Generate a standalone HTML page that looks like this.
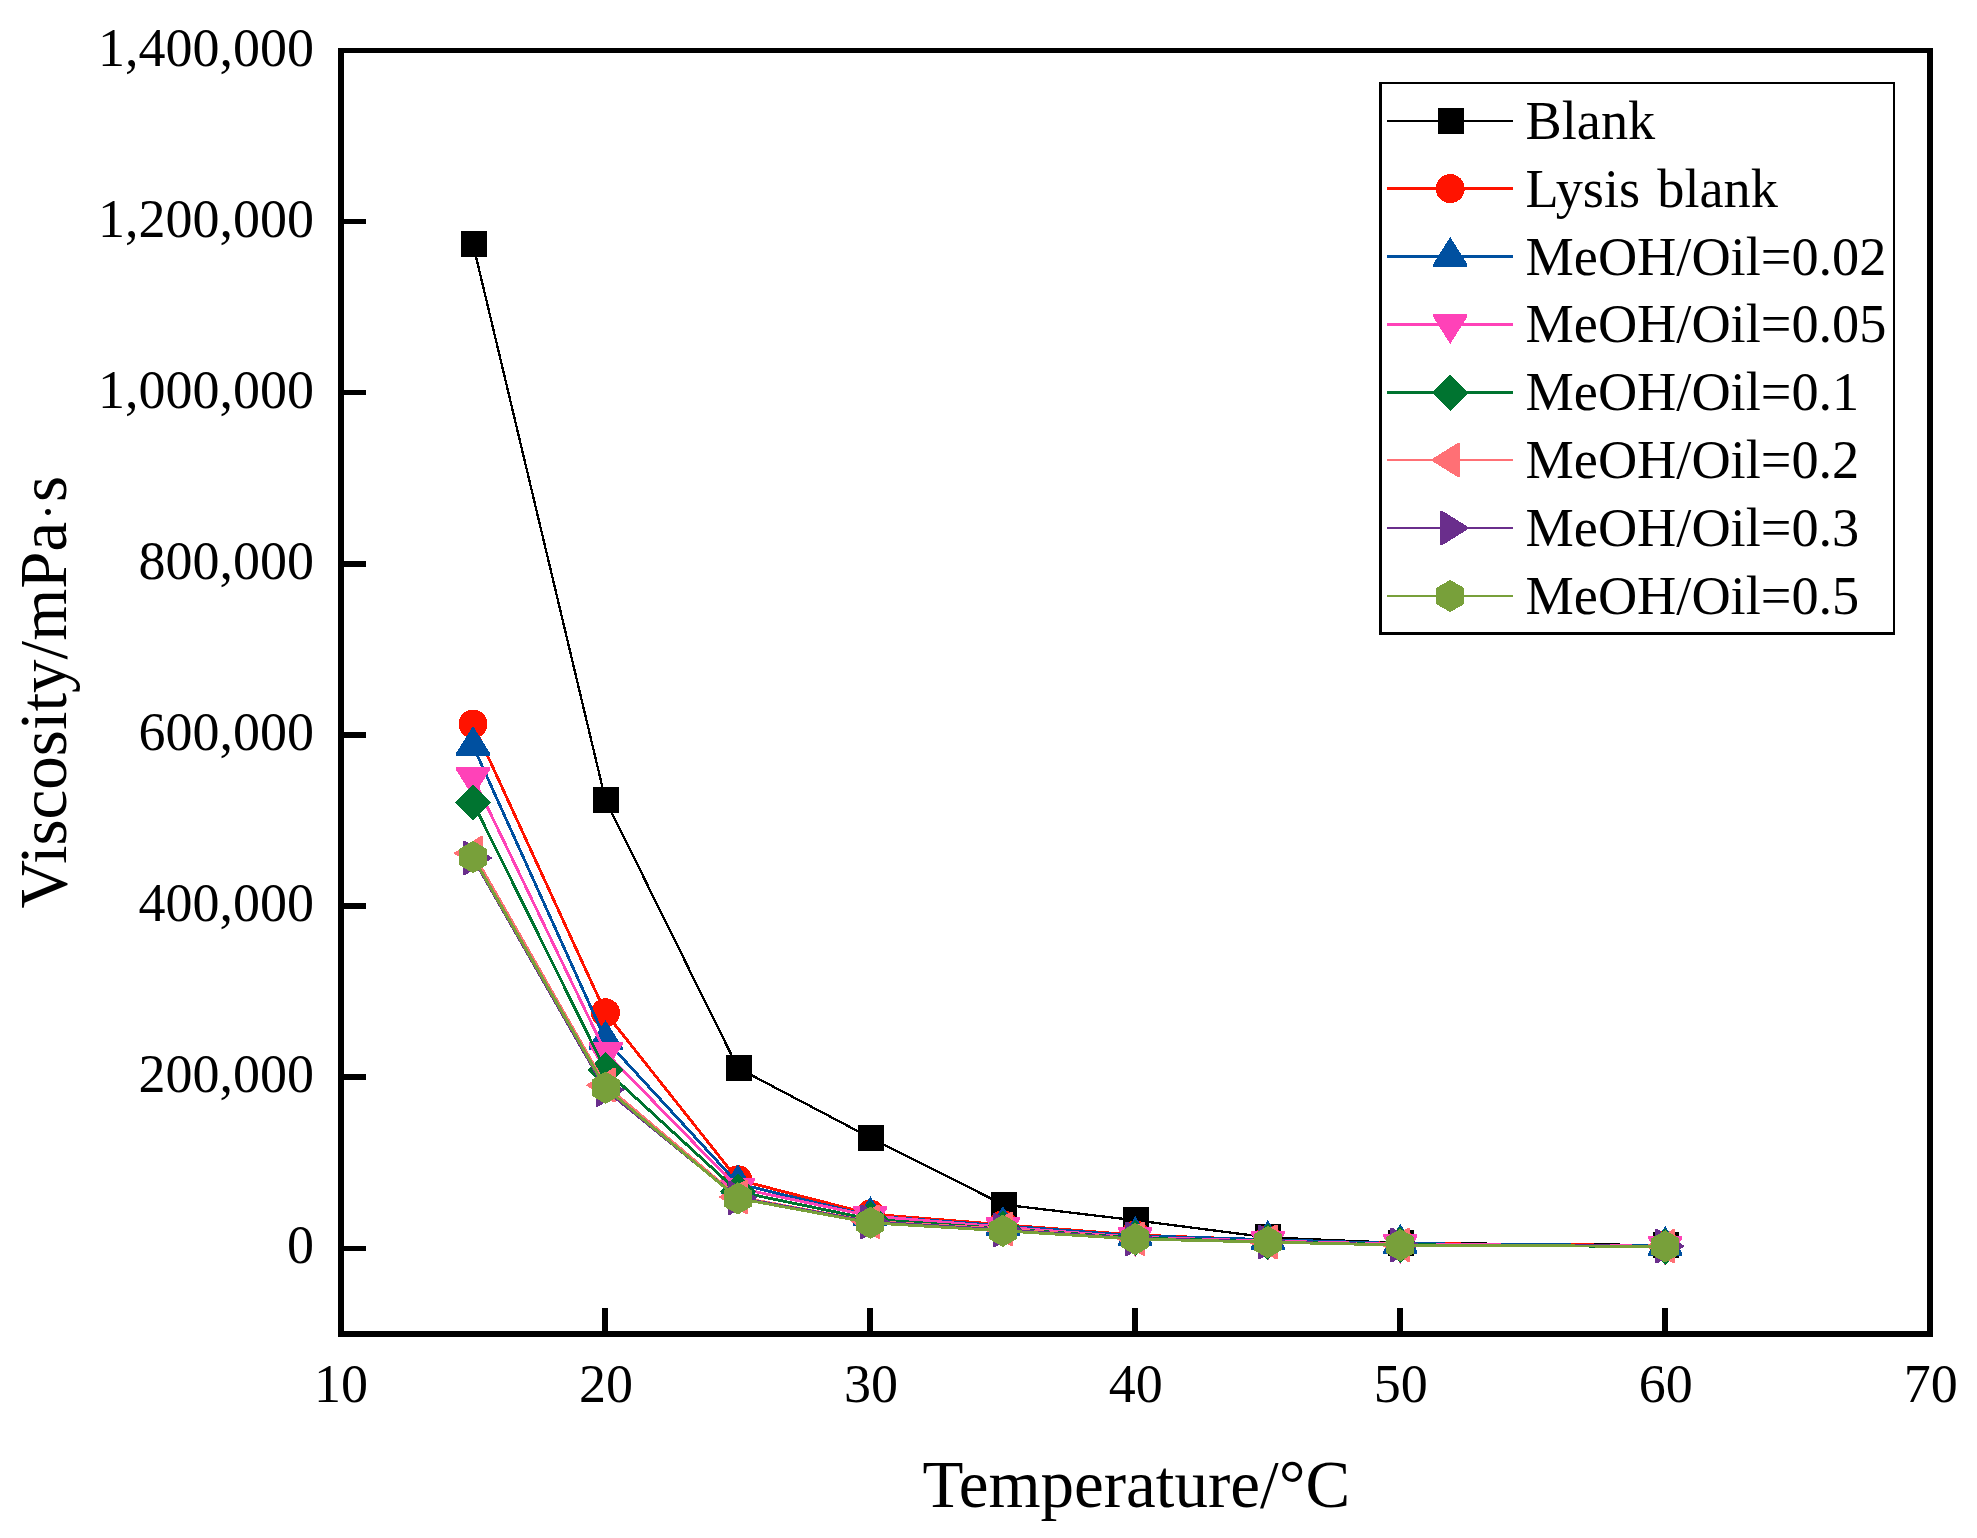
<!DOCTYPE html>
<html lang="en"><head><meta charset="utf-8">
<title>Viscosity vs Temperature</title>
<style>
html,body{margin:0;padding:0;background:#fff;}
body{width:1977px;height:1538px;overflow:hidden;}
svg{display:block;}
text{font-family:"Liberation Serif", "Times New Roman", Times, serif;fill:#000;}
.tk{font-size:54.0px;}
.ti{font-size:67.0px;}
.lg{font-size:54.3px;}
</style></head><body>
<svg width="1977" height="1538" viewBox="0 0 1977 1538">
<rect x="0" y="0" width="1977" height="1538" fill="#fff"/>
<g id="series" shape-rendering="crispEdges">
<g><polyline points="473,244 605.5,800 737.9,1068 870.4,1137.8 1002.9,1204.5 1135.3,1220.3 1267.8,1237.4 1400.3,1243 1665.2,1245" fill="none" stroke="#000000" stroke-width="2.3" stroke-linejoin="round"/>
<rect x="460.6" y="231" width="26" height="26" fill="#000000"/>
<rect x="593.1" y="787" width="26" height="26" fill="#000000"/>
<rect x="725.5" y="1055" width="26" height="26" fill="#000000"/>
<rect x="858" y="1124.8" width="26" height="26" fill="#000000"/>
<rect x="990.5" y="1191.5" width="26" height="26" fill="#000000"/>
<rect x="1122.9" y="1207.3" width="26" height="26" fill="#000000"/>
<rect x="1255.4" y="1224.4" width="26" height="26" fill="#000000"/>
<rect x="1387.9" y="1230" width="26" height="26" fill="#000000"/>
<rect x="1652.8" y="1232" width="26" height="26" fill="#000000"/>
</g>
<g><polyline points="473,724 605.5,1012.8 737.9,1179.8 870.4,1214.1 1002.9,1224.7 1135.3,1235 1267.8,1240 1400.3,1243.5 1665.2,1245.5" fill="none" stroke="#FF1300" stroke-width="2.9" stroke-linejoin="round"/>
<circle cx="473" cy="724" r="14.5" fill="#FF1300"/>
<circle cx="605.5" cy="1012.8" r="14.5" fill="#FF1300"/>
<circle cx="737.9" cy="1179.8" r="14.5" fill="#FF1300"/>
<circle cx="870.4" cy="1214.1" r="14.5" fill="#FF1300"/>
<circle cx="1002.9" cy="1224.7" r="14.5" fill="#FF1300"/>
<circle cx="1135.3" cy="1235" r="14.5" fill="#FF1300"/>
<circle cx="1267.8" cy="1240" r="14.5" fill="#FF1300"/>
<circle cx="1400.3" cy="1243.5" r="14.5" fill="#FF1300"/>
<circle cx="1665.2" cy="1245.5" r="14.5" fill="#FF1300"/>
</g>
<g><polyline points="473,745.7 605.5,1039.7 737.9,1183.7 870.4,1215.9 1002.9,1225.7 1135.3,1235.8 1267.8,1239.6 1400.3,1243.6 1665.2,1245.7" fill="none" stroke="#0050A0" stroke-width="2.9" stroke-linejoin="round"/>
<polygon points="473,726 490,753.2 490,756.2 456,756.2 456,753.2" fill="#0050A0"/>
<polygon points="605.5,1020 622.5,1047.2 622.5,1050.2 588.5,1050.2 588.5,1047.2" fill="#0050A0"/>
<polygon points="737.9,1164 754.9,1191.2 754.9,1194.2 720.9,1194.2 720.9,1191.2" fill="#0050A0"/>
<polygon points="870.4,1196.2 887.4,1223.4 887.4,1226.4 853.4,1226.4 853.4,1223.4" fill="#0050A0"/>
<polygon points="1002.9,1206 1019.9,1233.2 1019.9,1236.2 985.9,1236.2 985.9,1233.2" fill="#0050A0"/>
<polygon points="1135.3,1216.1 1152.3,1243.3 1152.3,1246.3 1118.3,1246.3 1118.3,1243.3" fill="#0050A0"/>
<polygon points="1267.8,1219.9 1284.8,1247.1 1284.8,1250.1 1250.8,1250.1 1250.8,1247.1" fill="#0050A0"/>
<polygon points="1400.3,1223.9 1417.3,1251.1 1417.3,1254.1 1383.3,1254.1 1383.3,1251.1" fill="#0050A0"/>
<polygon points="1665.2,1226 1682.2,1253.2 1682.2,1256.2 1648.2,1256.2 1648.2,1253.2" fill="#0050A0"/>
</g>
<g><polyline points="473,777.3 605.5,1052.3 737.9,1188 870.4,1216 1002.9,1227.1 1135.3,1237.3 1267.8,1241 1400.3,1244.2 1665.2,1246.2" fill="none" stroke="#FF42B8" stroke-width="2.9" stroke-linejoin="round"/>
<polygon points="473,797 490,769.8 490,767.1 456,767.1 456,769.8" fill="#FF42B8"/>
<polygon points="605.5,1072 622.5,1044.8 622.5,1042.1 588.5,1042.1 588.5,1044.8" fill="#FF42B8"/>
<polygon points="737.9,1207.7 754.9,1180.5 754.9,1177.8 720.9,1177.8 720.9,1180.5" fill="#FF42B8"/>
<polygon points="870.4,1235.7 887.4,1208.5 887.4,1205.8 853.4,1205.8 853.4,1208.5" fill="#FF42B8"/>
<polygon points="1002.9,1246.8 1019.9,1219.6 1019.9,1216.9 985.9,1216.9 985.9,1219.6" fill="#FF42B8"/>
<polygon points="1135.3,1257 1152.3,1229.8 1152.3,1227.1 1118.3,1227.1 1118.3,1229.8" fill="#FF42B8"/>
<polygon points="1267.8,1260.7 1284.8,1233.5 1284.8,1230.8 1250.8,1230.8 1250.8,1233.5" fill="#FF42B8"/>
<polygon points="1400.3,1263.9 1417.3,1236.7 1417.3,1234 1383.3,1234 1383.3,1236.7" fill="#FF42B8"/>
<polygon points="1665.2,1265.9 1682.2,1238.7 1682.2,1236 1648.2,1236 1648.2,1238.7" fill="#FF42B8"/>
</g>
<g><polyline points="473,802.5 605.5,1070 737.9,1191.7 870.4,1219.2 1002.9,1228.7 1135.3,1238 1267.8,1241.9 1400.3,1244.7 1665.2,1246.6" fill="none" stroke="#007430" stroke-width="2.9" stroke-linejoin="round"/>
<polygon points="473,784.2 491,802.5 473,820.8 455,802.5" fill="#007430"/>
<polygon points="605.5,1051.7 623.5,1070 605.5,1088.3 587.5,1070" fill="#007430"/>
<polygon points="737.9,1173.4 755.9,1191.7 737.9,1210 719.9,1191.7" fill="#007430"/>
<polygon points="870.4,1200.9 888.4,1219.2 870.4,1237.5 852.4,1219.2" fill="#007430"/>
<polygon points="1002.9,1210.4 1020.9,1228.7 1002.9,1247 984.9,1228.7" fill="#007430"/>
<polygon points="1135.3,1219.7 1153.3,1238 1135.3,1256.3 1117.3,1238" fill="#007430"/>
<polygon points="1267.8,1223.6 1285.8,1241.9 1267.8,1260.2 1249.8,1241.9" fill="#007430"/>
<polygon points="1400.3,1226.4 1418.3,1244.7 1400.3,1263 1382.3,1244.7" fill="#007430"/>
<polygon points="1665.2,1228.3 1683.2,1246.6 1665.2,1264.9 1647.2,1246.6" fill="#007430"/>
</g>
<g><polyline points="473,853.2 605.5,1085.2 737.9,1197 870.4,1221.5 1002.9,1229 1135.3,1238.6 1267.8,1242 1400.3,1244.9 1665.2,1246.3" fill="none" stroke="#FF7075" stroke-width="2.9" stroke-linejoin="round"/>
<polygon points="453.3,853.2 480.5,836.2 483,836.2 483,870.2 480.5,870.2" fill="#FF7075"/>
<polygon points="585.8,1085.2 613,1068.2 615.5,1068.2 615.5,1102.2 613,1102.2" fill="#FF7075"/>
<polygon points="718.2,1197 745.4,1180 747.9,1180 747.9,1214 745.4,1214" fill="#FF7075"/>
<polygon points="850.7,1221.5 877.9,1204.5 880.4,1204.5 880.4,1238.5 877.9,1238.5" fill="#FF7075"/>
<polygon points="983.2,1229 1010.4,1212 1012.9,1212 1012.9,1246 1010.4,1246" fill="#FF7075"/>
<polygon points="1115.6,1238.6 1142.8,1221.6 1145.3,1221.6 1145.3,1255.6 1142.8,1255.6" fill="#FF7075"/>
<polygon points="1248.1,1242 1275.3,1225 1277.8,1225 1277.8,1259 1275.3,1259" fill="#FF7075"/>
<polygon points="1380.6,1244.9 1407.8,1227.9 1410.3,1227.9 1410.3,1261.9 1407.8,1261.9" fill="#FF7075"/>
<polygon points="1645.5,1246.3 1672.8,1229.3 1675.2,1229.3 1675.2,1263.3 1672.8,1263.3" fill="#FF7075"/>
</g>
<g><polyline points="473,858 605.5,1089.8 737.9,1197.7 870.4,1221.8 1002.9,1229.9 1135.3,1238.6 1267.8,1241.9 1400.3,1245 1665.2,1246.2" fill="none" stroke="#6A2E8C" stroke-width="2.9" stroke-linejoin="round"/>
<polygon points="492.7,858 465.5,841 463,841 463,875 465.5,875" fill="#6A2E8C"/>
<polygon points="625.2,1089.8 598,1072.8 595.5,1072.8 595.5,1106.8 598,1106.8" fill="#6A2E8C"/>
<polygon points="757.6,1197.7 730.4,1180.7 727.9,1180.7 727.9,1214.7 730.4,1214.7" fill="#6A2E8C"/>
<polygon points="890.1,1221.8 862.9,1204.8 860.4,1204.8 860.4,1238.8 862.9,1238.8" fill="#6A2E8C"/>
<polygon points="1022.6,1229.9 995.4,1212.9 992.9,1212.9 992.9,1246.9 995.4,1246.9" fill="#6A2E8C"/>
<polygon points="1155,1238.6 1127.8,1221.6 1125.3,1221.6 1125.3,1255.6 1127.8,1255.6" fill="#6A2E8C"/>
<polygon points="1287.5,1241.9 1260.3,1224.9 1257.8,1224.9 1257.8,1258.9 1260.3,1258.9" fill="#6A2E8C"/>
<polygon points="1420,1245 1392.8,1228 1390.3,1228 1390.3,1262 1392.8,1262" fill="#6A2E8C"/>
<polygon points="1685,1246.2 1657.8,1229.2 1655.2,1229.2 1655.2,1263.2 1657.8,1263.2" fill="#6A2E8C"/>
</g>
<g><polyline points="473,857 605.5,1087.7 737.9,1198.4 870.4,1222.8 1002.9,1230.8 1135.3,1239 1267.8,1242.1 1400.3,1245.1 1665.2,1246.4" fill="none" stroke="#78A03A" stroke-width="2.9" stroke-linejoin="round"/>
<polygon points="473,840.8 487,849 487,865 473,873.2 459,865 459,849" fill="#78A03A"/>
<polygon points="605.5,1071.5 619.5,1079.7 619.5,1095.7 605.5,1103.9 591.5,1095.7 591.5,1079.7" fill="#78A03A"/>
<polygon points="737.9,1182.2 751.9,1190.4 751.9,1206.4 737.9,1214.6 723.9,1206.4 723.9,1190.4" fill="#78A03A"/>
<polygon points="870.4,1206.6 884.4,1214.8 884.4,1230.8 870.4,1239 856.4,1230.8 856.4,1214.8" fill="#78A03A"/>
<polygon points="1002.9,1214.6 1016.9,1222.8 1016.9,1238.8 1002.9,1247 988.9,1238.8 988.9,1222.8" fill="#78A03A"/>
<polygon points="1135.3,1222.8 1149.3,1231 1149.3,1247 1135.3,1255.2 1121.3,1247 1121.3,1231" fill="#78A03A"/>
<polygon points="1267.8,1225.9 1281.8,1234.1 1281.8,1250.1 1267.8,1258.3 1253.8,1250.1 1253.8,1234.1" fill="#78A03A"/>
<polygon points="1400.3,1228.9 1414.3,1237.1 1414.3,1253.1 1400.3,1261.3 1386.3,1253.1 1386.3,1237.1" fill="#78A03A"/>
<polygon points="1665.2,1230.2 1679.2,1238.4 1679.2,1254.4 1665.2,1262.6 1651.2,1254.4 1651.2,1238.4" fill="#78A03A"/>
</g>
</g>
<g id="axes" fill="#000" shape-rendering="crispEdges">
<rect x="338" y="48" width="1595" height="5.4"/>
<rect x="338" y="1331" width="1595" height="6"/>
<rect x="338" y="48" width="6" height="1289"/>
<rect x="1927" y="48" width="6" height="1289"/>
<rect x="344" y="1245.5" width="22" height="5.4"/>
<rect x="344" y="1074.4" width="22" height="5.4"/>
<rect x="344" y="903.3" width="22" height="5.4"/>
<rect x="344" y="732.2" width="22" height="5.4"/>
<rect x="344" y="561.1" width="22" height="5.4"/>
<rect x="344" y="390" width="22" height="5.4"/>
<rect x="344" y="218.9" width="22" height="5.4"/>
<rect x="602" y="1308" width="6" height="23"/>
<rect x="867" y="1308" width="6" height="23"/>
<rect x="1132" y="1308" width="6" height="23"/>
<rect x="1397" y="1308" width="6" height="23"/>
<rect x="1662" y="1308" width="6" height="23"/>
</g>
<g id="ylabels" class="tk" text-anchor="end">
<text x="313.9" y="1263.2">0</text>
<text x="313.9" y="1092.1">200,000</text>
<text x="313.9" y="921">400,000</text>
<text x="313.9" y="749.9">600,000</text>
<text x="313.9" y="578.8">800,000</text>
<text x="313.9" y="407.7">1,000,000</text>
<text x="313.9" y="236.6">1,200,000</text>
<text x="313.9" y="65.5">1,400,000</text>
</g>
<g id="xlabels" class="tk" text-anchor="middle">
<text x="341" y="1402.3">10</text>
<text x="606" y="1402.3">20</text>
<text x="870.9" y="1402.3">30</text>
<text x="1135.8" y="1402.3">40</text>
<text x="1400.8" y="1402.3">50</text>
<text x="1665.8" y="1402.3">60</text>
<text x="1930.7" y="1402.3">70</text>
</g>
<text class="ti" text-anchor="middle" x="1136.3" y="1507">Temperature/°C</text>
<text class="ti" text-anchor="middle" transform="translate(65.9 692.2) rotate(-90)">Viscosity/mPa<tspan font-size="50" dx="1.5" dy="-1.4">·</tspan><tspan dx="1.5" dy="1.4">s</tspan></text>
<g id="legend">
<g fill="#000" shape-rendering="crispEdges">
<rect x="1379" y="82" width="516" height="2.2"/>
<rect x="1379" y="632" width="516" height="3"/>
<rect x="1379" y="82" width="3" height="553"/>
<rect x="1893" y="82" width="2.2" height="553"/>
</g>
<g shape-rendering="crispEdges"><rect x="1387" y="120" width="126" height="2" fill="#000000"/>
<rect x="1438.2" y="108.3" width="26" height="26" fill="#000000"/></g>
<text class="lg" x="1525.5" y="138.9">Blank</text>
<g shape-rendering="crispEdges"><rect x="1387" y="187" width="126" height="3" fill="#FF1300"/>
<circle cx="1450.2" cy="188.6" r="14.5" fill="#FF1300"/></g>
<text class="lg" x="1525.5" y="206.5">Lysis <tspan dx="3.5">blank</tspan></text>
<g shape-rendering="crispEdges"><rect x="1387" y="255" width="126" height="3" fill="#0050A0"/>
<polygon points="1450.2,236.9 1467.2,264.1 1467.2,267.1 1433.2,267.1 1433.2,264.1" fill="#0050A0"/></g>
<text class="lg" x="1525.5" y="274.5">MeOH/Oil=0.02</text>
<g shape-rendering="crispEdges"><rect x="1387" y="323" width="126" height="3" fill="#FF42B8"/>
<polygon points="1450.2,344.2 1467.2,317 1467.2,314.3 1433.2,314.3 1433.2,317" fill="#FF42B8"/></g>
<text class="lg" x="1525.5" y="342.4">MeOH/Oil=0.05</text>
<g shape-rendering="crispEdges"><rect x="1387" y="391" width="126" height="3" fill="#007430"/>
<polygon points="1450.2,374.5 1468.2,392.8 1450.2,411.1 1432.2,392.8" fill="#007430"/></g>
<text class="lg" x="1525.5" y="410.4">MeOH/Oil=0.1</text>
<g shape-rendering="crispEdges"><rect x="1387" y="459" width="126" height="2" fill="#FF7075"/>
<polygon points="1430.5,460 1457.7,443 1460.2,443 1460.2,477 1457.7,477" fill="#FF7075"/></g>
<text class="lg" x="1525.5" y="477.9">MeOH/Oil=0.2</text>
<g shape-rendering="crispEdges"><rect x="1387" y="527" width="126" height="2" fill="#6A2E8C"/>
<polygon points="1469.9,528 1442.7,511 1440.2,511 1440.2,545 1442.7,545" fill="#6A2E8C"/></g>
<text class="lg" x="1525.5" y="545.9">MeOH/Oil=0.3</text>
<g shape-rendering="crispEdges"><rect x="1387" y="595" width="126" height="2" fill="#78A03A"/>
<polygon points="1450.2,579.8 1464.2,588 1464.2,604 1450.2,612.2 1436.2,604 1436.2,588" fill="#78A03A"/></g>
<text class="lg" x="1525.5" y="613.9">MeOH/Oil=0.5</text>
</g>
</svg>
</body></html>
